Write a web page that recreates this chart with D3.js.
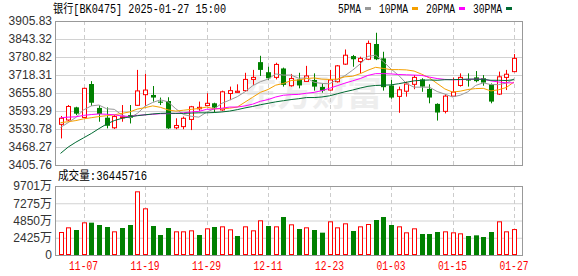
<!DOCTYPE html>
<html>
<head>
<meta charset="utf-8">
<script src="https://cdn.jsdelivr.net/npm/d3@7"></script>
<style>
  body { margin: 0; background: #fff; }
</style>
</head>
<body>
<div id="chart"></div>
<script>
// trading days shown, 2024-11-04 .. 2025-01-27
const dates = ["11-04","11-05","11-06","11-07","11-08","11-11","11-12","11-13","11-14","11-15",
  "11-18","11-19","11-20","11-21","11-22","11-25","11-26","11-27","11-28","11-29",
  "12-02","12-03","12-04","12-05","12-06","12-09","12-10","12-11","12-12","12-13",
  "12-16","12-17","12-18","12-19","12-20","12-23","12-24","12-25","12-26","12-27",
  "12-30","12-31","01-02","01-03","01-06","01-07","01-08","01-09","01-10","01-13",
  "01-14","01-15","01-16","01-17","01-20","01-21","01-22","01-23","01-24","01-27"];

const opens  = [3547,3562,3606,3571,3687,3604,3570,3535,3571,3579,3613,3650,3649,3626,3628,3535,3539,3564,3601,3612,
                3620,3597,3654,3658,3664,3703,3763,3728,3710,3741,3681,3703,3696,3701,3677,3666,3695,3756,3784,3765,
                3773,3826,3776,3682,3644,3662,3686,3703,3670,3618,3592,3645,3682,3703,3710,3707,3686,3652,3710,3730];
const highs  = [3576,3614,3608,3674,3697,3614,3606,3579,3614,3614,3736,3722,3680,3640,3641,3568,3574,3611,3626,3655,
                3622,3664,3678,3686,3726,3736,3785,3747,3761,3744,3722,3726,3750,3724,3689,3736,3753,3807,3788,3782,
                3838,3865,3799,3701,3678,3695,3718,3707,3686,3620,3652,3709,3724,3724,3732,3718,3689,3730,3736,3791];
const lows   = [3498,3559,3579,3569,3611,3556,3533,3531,3556,3550,3611,3611,3626,3614,3531,3530,3530,3527,3594,3611,
                3588,3594,3631,3657,3660,3684,3715,3701,3703,3678,3678,3672,3694,3664,3657,3664,3692,3753,3747,3724,
                3770,3770,3664,3636,3587,3643,3669,3660,3620,3560,3585,3643,3678,3678,3693,3681,3620,3649,3666,3728];
const closes = [3568,3609,3584,3672,3622,3583,3542,3574,3573,3570,3663,3666,3640,3622,3533,3543,3568,3608,3606,3620,
                3605,3660,3664,3662,3703,3710,3736,3707,3755,3684,3706,3682,3715,3678,3664,3701,3750,3787,3773,3776,
                3828,3773,3676,3640,3667,3687,3710,3678,3640,3588,3645,3659,3710,3699,3697,3692,3626,3712,3721,3776];

// volume in 万
const volumes = [3234,3890,3515,4593,4546,4218,3937,3328,3796,4218,8952,6562,4078,2812,3796,3328,3328,3468,2812,3750,
                 3937,4031,3609,2672,4031,3468,4874,4078,4031,5343,4312,3656,3890,3515,3140,4734,3890,4453,3375,4031,
                 4359,4921,5343,4218,4031,3187,3750,2953,2953,3234,3328,3187,3047,2672,2765,2531,3234,4734,3328,3645];

const ma5  = [3536,3553,3571,3597,3611,3614,3601,3599,3579,3569,3585,3610,3623,3632,3625,3601,3581,3575,3572,3589,
              3601,3620,3631,3643,3660,3681,3695,3704,3722,3718,3718,3707,3708,3693,3689,3688,3702,3716,3735,3757,
              3783,3787,3765,3739,3717,3689,3676,3676,3676,3661,3652,3642,3648,3660,3682,3691,3685,3685,3690,3705];
const ma10 = [3553,3556,3560,3566,3570,3574,3577,3580,3585,3590,3600,3605,3611,3606,3597,3593,3596,3599,3602,3607,
              3601,3601,3603,3607,3624,3641,3658,3668,3683,3689,3699,3701,3706,3708,3704,3703,3704,3712,3714,3723,
              3735,3745,3741,3737,3737,3736,3732,3721,3708,3689,3670,3659,3662,3668,3671,3672,3663,3667,3675,3694];
const ma20 = [3570,3572,3573,3578,3581,3583,3582,3580,3576,3574,3578,3580,3582,3584,3584,3585,3587,3590,3592,3599,
              3600,3603,3607,3607,3611,3617,3627,3633,3642,3648,3650,3651,3655,3658,3664,3672,3681,3690,3698,3706,
              3717,3723,3723,3722,3720,3719,3718,3717,3711,3706,3703,3702,3702,3703,3704,3704,3698,3694,3691,3691];
const ma30 = [3446,3468,3485,3500,3515,3532,3548,3560,3568,3573,3577,3580,3583,3585,3586,3585,3585,3586,3587,3587,
              3588,3590,3593,3598,3604,3609,3615,3620,3625,3629,3633,3636,3640,3640,3642,3646,3653,3660,3666,3673,
              3679,3682,3683,3684,3688,3693,3698,3700,3701,3700,3702,3702,3703,3704,3704,3703,3700,3700,3699,3702];

const priceTicks = [3405.76, 3468.27, 3530.78, 3593.29, 3655.80, 3718.31, 3780.82, 3843.32, 3905.83];
const volumeTicks = [0, 2425, 4850, 7275, 9701];
const dateTicks = ["11-07","11-19","11-29","12-11","12-23","01-03","01-15","01-27"];

const maSeries = [
  {name: "5PMA",  values: ma5,  color: "#999999"},
  {name: "10PMA", values: ma10, color: "#f5a000"},
  {name: "20PMA", values: ma20, color: "#ff00ff"},
  {name: "30PMA", values: ma30, color: "#006a32"}
];

const width = 578, height = 276;
const left = 55, right = 522;
const main = {top: 21, bottom: 165};
const vol = {top: 186, bottom: 255};
const RED = "#ff0000", GREEN = "#008000";
const monoFont = "'Liberation Mono', 'Noto Sans CJK SC', monospace";
const axisFont = "'Liberation Sans', Arial, 'Noto Sans CJK SC', sans-serif";

const svg = d3.select("#chart")
  .append("svg")
  .attr("width", width)
  .attr("height", height);

const x = d3.scalePoint().domain(dates).range([60.5, 514]);
const y = d3.scaleLinear().domain([priceTicks[0], priceTicks[priceTicks.length - 1]]).range([main.bottom, main.top]);
const yv = d3.scaleLinear().domain([0, 9701]).range([vol.bottom, vol.top]);

// text in a 6px half-width bitmap-ish look
function halfWidth(s) {
  let n = 0;
  for (const ch of s) n += /[\u3000-\u9fff\uff00-\uffef]/.test(ch) ? 2 : 1;
  return n;
}
function monoText(g, s, px, py, color, anchor) {
  return g.append("text")
    .attr("x", px).attr("y", py)
    .attr("fill", color || "#000")
    .attr("text-anchor", anchor || "start")
    .attr("font-family", monoFont)
    .attr("font-size", 12)
    .attr("textLength", halfWidth(s) * 6 - 1)
    .attr("lengthAdjust", "spacingAndGlyphs")
    .text(s);
}

// watermark
svg.append("text")
  .attr("x", 242).attr("y", 106)
  .attr("font-family", "'Noto Sans CJK SC', sans-serif")
  .attr("font-weight", "bold")
  .attr("font-size", 35)
  .attr("fill", "#eeeeee")
  .text("东方财富");

// horizontal grid + price labels
svg.append("g")
  .attr("transform", `translate(${left},0)`)
  .call(d3.axisLeft(y).tickValues(priceTicks).tickSize(-(right - left)).tickPadding(3).tickFormat(d3.format(".2f")))
  .call(g => g.select(".domain").remove())
  .call(g => g.selectAll("line").attr("stroke", "#d2d2d2"))
  .call(g => g.selectAll("text").attr("fill", "#333").attr("font-family", axisFont).attr("font-size", 12));

svg.append("g")
  .attr("transform", `translate(${left},0)`)
  .call(d3.axisLeft(yv).tickValues(volumeTicks).tickSize(-(right - left)).tickPadding(3)
    .tickFormat(d => d === 0 ? "0" : d + "万"))
  .call(g => g.select(".domain").remove())
  .call(g => g.selectAll("line").attr("stroke", "#d2d2d2"))
  .call(g => g.selectAll("text").attr("fill", "#333").attr("font-family", axisFont).attr("font-size", 12));

// vertical dashed grid
const vgrid = svg.append("g").attr("stroke", "#cccccc").attr("stroke-dasharray", "4,3");
[main, vol].forEach(p => {
  vgrid.selectAll(null)
    .data(dateTicks)
    .join("line")
    .attr("x1", d => Math.round(x(d)) + 0.5)
    .attr("x2", d => Math.round(x(d)) + 0.5)
    .attr("y1", p.top)
    .attr("y2", p.bottom);
});

// date labels
dateTicks.forEach(d => monoText(svg, d, x(d), 270, RED, "middle"));

// candles
const idx = d3.range(dates.length);
const cx = i => Math.round(x(dates[i]));
const candles = svg.append("g");
idx.forEach(i => {
  const up = closes[i] >= opens[i];
  const c = up ? RED : GREEN;
  candles.append("line")
    .attr("x1", cx(i) + 0.5).attr("x2", cx(i) + 0.5)
    .attr("y1", y(highs[i])).attr("y2", y(lows[i]))
    .attr("stroke", c);
  const top = y(Math.max(opens[i], closes[i]));
  const h = Math.max(1, y(Math.min(opens[i], closes[i])) - top);
  if (up) {
    candles.append("rect")
      .attr("x", cx(i) - 1.5).attr("y", top).attr("width", 4).attr("height", h)
      .attr("fill", "#fff").attr("stroke", c);
  } else {
    candles.append("rect")
      .attr("x", cx(i) - 2).attr("y", top).attr("width", 5).attr("height", h)
      .attr("fill", c);
  }
});

// moving averages
const line = vals => d3.line().x((d, i) => x(dates[i])).y(d => y(d))(vals);
svg.append("g")
  .selectAll("path")
  .data(maSeries)
  .join("path")
  .attr("fill", "none")
  .attr("stroke", d => d.color)
  .attr("stroke-width", 1)
  .attr("d", d => line(d.values));

// volume bars, coloured by change against previous close
const bars = svg.append("g");
idx.forEach(i => {
  const up = i === 0 ? closes[i] >= opens[i] : closes[i] >= closes[i - 1];
  const top = yv(volumes[i]);
  if (up) {
    bars.append("rect")
      .attr("x", cx(i) - 1.5).attr("y", top + 0.5).attr("width", 4).attr("height", vol.bottom - top - 1)
      .attr("fill", "#fff").attr("stroke", RED);
  } else {
    bars.append("rect")
      .attr("x", cx(i) - 2).attr("y", top).attr("width", 5).attr("height", vol.bottom - top)
      .attr("fill", GREEN);
  }
});

// panel borders
[main, vol].forEach(p => {
  svg.append("rect")
    .attr("x", left + 0.5).attr("y", p.top + 0.5)
    .attr("width", right - left).attr("height", p.bottom - p.top)
    .attr("fill", "none").attr("stroke", "#999");
});

// title, legend, volume caption
monoText(svg, "银行[BK0475] 2025-01-27 15:00", 53, 13);
monoText(svg, "成交量:36445716", 58, 180);

let lx = 338;
maSeries.forEach(s => {
  monoText(svg, s.name, lx, 13);
  lx += halfWidth(s.name) * 6 + 3;
  svg.append("rect").attr("x", lx).attr("y", 7).attr("width", 6).attr("height", 3).attr("fill", s.color);
  lx += 14;
});
</script>
</body>
</html>
